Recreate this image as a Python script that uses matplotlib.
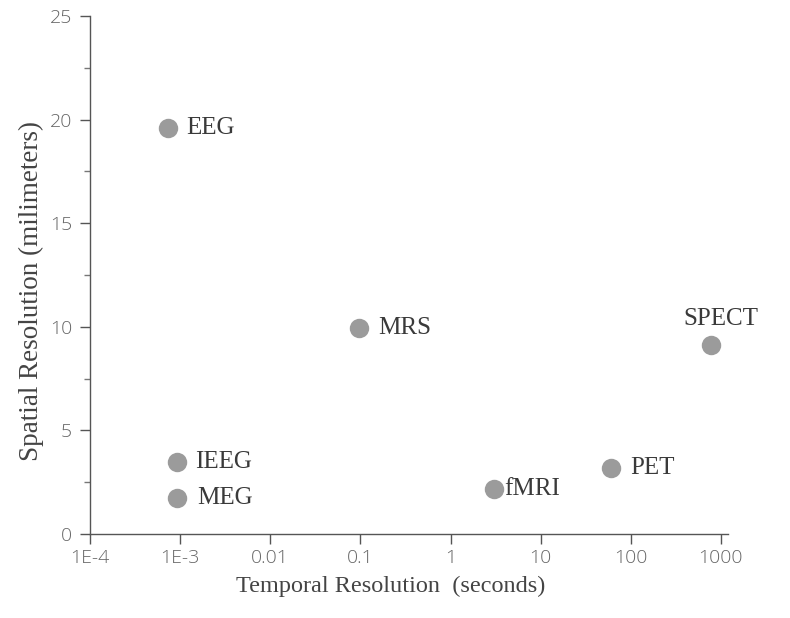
import matplotlib.pyplot as plt
from matplotlib.ticker import FixedLocator, MultipleLocator

# Data
methods = ["EEG", "IEEG", "MEG", "MRS", "fMRI", "PET", "SPECT"]
temporal_s = [7.3e-4, 9.3e-4, 9.2e-4, 0.096, 3.0, 61.0, 780.0]
spatial_mm = [19.6, 3.47, 1.74, 9.94, 2.17, 3.19, 9.12]

x_ticks = [1e-4, 1e-3, 1e-2, 1e-1, 1, 10, 100, 1000]
x_tick_labels = ["1E-4", "1E-3", "0.01", "0.1", "1", "10", "100", "1000"]
y_ticks = [0, 5, 10, 15, 20, 25]

# label offsets in pixels (dx, dy), alignment
label_offsets = {
    "EEG": (18, 0, "left"),
    "IEEG": (18, 0, "left"),
    "MEG": (20, 0, "left"),
    "MRS": (19, 0, "left"),
    "fMRI": (11, 0, "left"),
    "PET": (19, 0, "left"),
    "SPECT": (10, 26, "center"),
}

serif = ["Liberation Serif", "DejaVu Serif"]
sans = ["Open Sans", "DejaVu Sans"]

fig = plt.figure(figsize=(7.9, 6.18), dpi=100)
ax = fig.add_axes([0.114, 0.136, 0.8075, 0.838])

ax.plot(temporal_s, spatial_mm, linestyle="none", marker="o",
        markersize=14, color="#9b9b9b", markeredgewidth=0, zorder=3)

px = 72 / 100  # pixels -> points
for name, x, y in zip(methods, temporal_s, spatial_mm):
    dx, dy, ha = label_offsets[name]
    ax.annotate(name, (x, y), xytext=(dx * px, dy * px),
                textcoords="offset points", ha=ha, va="center",
                fontsize=18, family=serif, color="#3a3a3a")

ax.set_xscale("log")
ax.set_xlim(1e-4, 1200)
ax.set_ylim(0, 25)

ax.set_xticks(x_ticks)
ax.set_xticklabels(x_tick_labels)
ax.xaxis.set_minor_locator(FixedLocator([]))
ax.set_yticks(y_ticks)
ax.yaxis.set_minor_locator(MultipleLocator(2.5))

for spine in ["top", "right"]:
    ax.spines[spine].set_visible(False)
for spine in ["left", "bottom"]:
    ax.spines[spine].set_color("#555555")
    ax.spines[spine].set_linewidth(1.0)

ax.tick_params(axis="both", which="major", direction="out", length=7,
               width=1, color="#555555", labelcolor="#666666", labelsize=14)
ax.tick_params(axis="x", which="major", pad=4)
ax.tick_params(axis="y", which="major", pad=6)
ax.tick_params(axis="y", which="minor", direction="out", length=4,
               width=1, color="#777777")
for lab in ax.get_xticklabels() + ax.get_yticklabels():
    lab.set_family(sans)
    lab.set_fontweight("light")

ax.set_xlabel("Temporal Resolution  (seconds)", fontsize=17.5, family=serif,
              color="#444444")
ax.set_ylabel("Spatial Resolution (milimeters)", fontsize=19.5, family=serif,
              color="#444444")
ax.xaxis.set_label_coords(0.472, -0.08)
ax.yaxis.set_label_coords(-0.072, 0.47)

fig.savefig("out.png", dpi=100)
